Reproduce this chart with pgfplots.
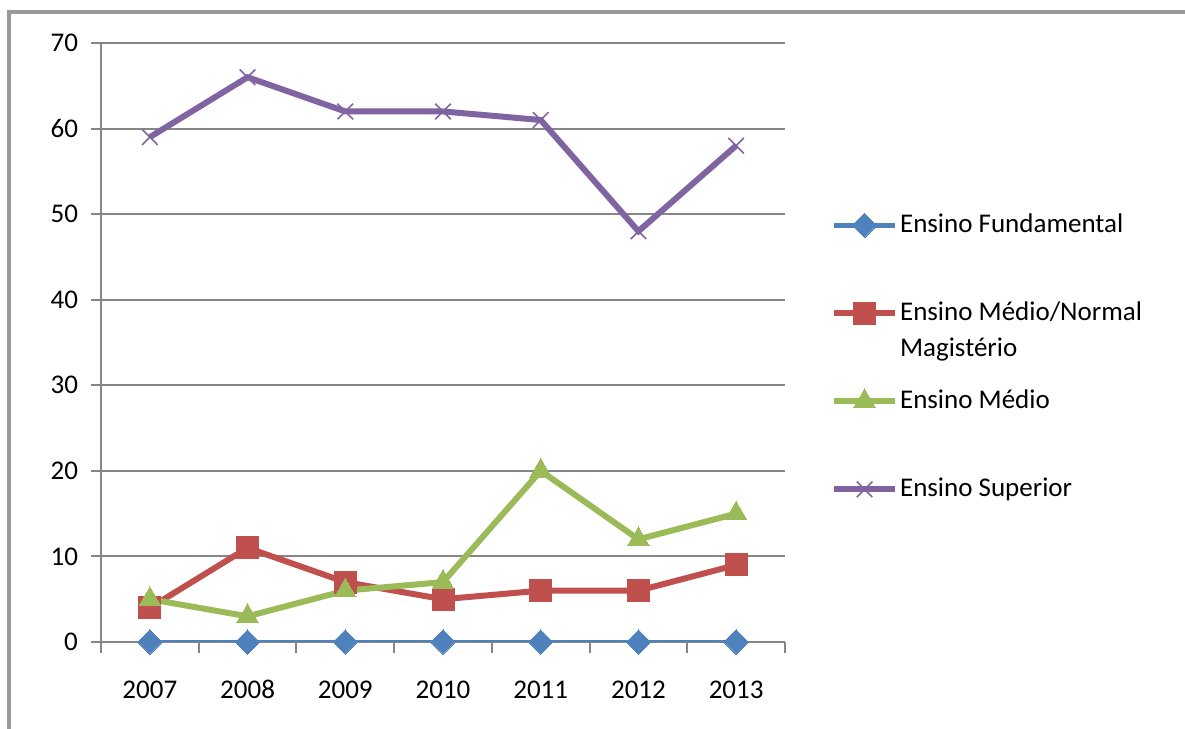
\documentclass[border=0pt]{standalone}
\usepackage{fontspec}
\setmainfont{Carlito}
\usepackage{pgfplots}
\pgfplotsset{compat=1.18}
\definecolor{cBlue}{HTML}{4F81BD}
\definecolor{cRed}{HTML}{C0504D}
\definecolor{cGreen}{HTML}{9BBB59}
\definecolor{cPurple}{HTML}{8064A2}
\definecolor{cGrid}{HTML}{868686}
\definecolor{cFrame}{HTML}{9A9A9A}
\begin{document}
\begin{tikzpicture}
\useasboundingbox (0,0) rectangle (592.5pt,364.5pt);
\draw[line width=2pt, color=cFrame] (4.5pt,0) -- (4.5pt,358.5pt) -- (592.5pt,358.5pt);
\begin{axis}[
    at={(50.5pt,43.5pt)}, anchor=south west,
    scale only axis, width=342pt, height=299.5pt,
    xmin=-0.5, xmax=6.5, ymin=0, ymax=70,
    ytick={0,10,...,70},
    xtick={0,...,6},
    xticklabels={2007,2008,2009,2010,2011,2012,2013},
    minor xtick={-0.5,0.5,...,6.5},
    axis x line*=bottom, axis y line*=left,
    axis line style={cGrid, line width=1pt, -},
    ymajorgrids, grid style={cGrid, line width=1pt},
    tick align=outside,
    major x tick style={draw=none},
    minor x tick style={cGrid, line width=1pt},
    minor tick length=5.5pt,
    major tick length=5pt,
    ytick style={cGrid, line width=1pt},
    tick label style={font=\fontsize{13.5}{16}\selectfont},
    /pgf/number format/assume math mode=true,
    xticklabel style={yshift=-10pt, text height=9.5pt, text depth=0pt},
    yticklabel style={xshift=-3pt},
    legend style={at={(1.058,0.728)}, anchor=north west, draw=none, fill=none,
        font=\fontsize{13.5}{18}\selectfont, row sep=29pt,
        nodes={inner sep=1pt, text height=10pt, text depth=3pt}},
    legend cell align=left,
    legend image code/.code={\draw[mark repeat=2,mark phase=2] plot coordinates {(0pt,0pt)(15.25pt,0pt)(30.5pt,0pt)};},
]
\addplot[cBlue, line width=2.4pt, mark=square*, mark size=4.3pt, mark options={rotate=45, line width=0pt}] coordinates {
(0,0) (1,0) (2,0) (3,0) (4,0) (5,0) (6,0)};
\addlegendentry{Ensino Fundamental}
\addplot[cRed, line width=3pt, mark=square*, mark size=5.5pt, mark options={line width=0pt}] coordinates {
(0,4) (1,11) (2,7) (3,5) (4,6) (5,6) (6,9)};
\addlegendentry{\smash{\begin{tabular}[t]{@{}l@{}}Ensino Médio/Normal\\Magistério\end{tabular}}}
\addplot[cGreen, line width=3pt, mark=triangle*, mark size=6.2pt, mark options={line width=0pt}] coordinates {
(0,5) (1,3) (2,6) (3,7) (4,20) (5,12) (6,15)};
\addlegendentry{Ensino Médio}
\addplot[cPurple, line width=3pt, mark=x, mark size=5.5pt, mark options={line width=0.8pt}] coordinates {
(0,59) (1,66) (2,62) (3,62) (4,61) (5,48) (6,58)};
\addlegendentry{Ensino Superior}
\end{axis}
\end{tikzpicture}
\end{document}
